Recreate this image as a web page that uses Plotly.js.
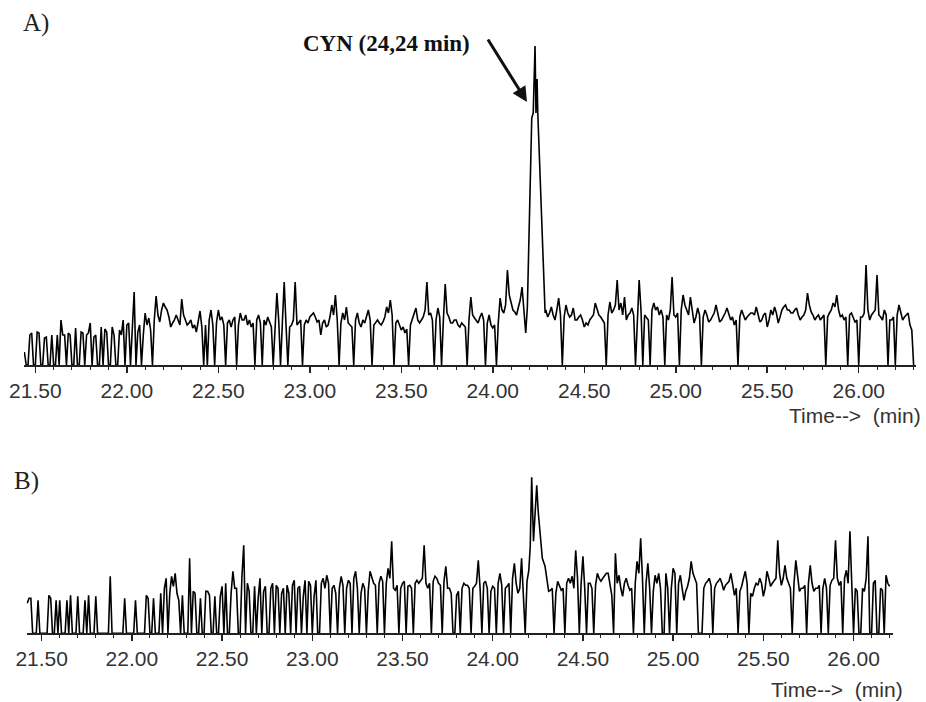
<!DOCTYPE html>
<html>
<head>
<meta charset="utf-8">
<script src="https://cdn.plot.ly/plotly-3.0.1.min.js"></script>
<style>html,body{margin:0;padding:0;background:#fff;}#chart{width:926px;height:702px;}</style>
</head>
<body>
<div id="chart"></div>
<script>
// Sampling grid of the chromatograms (min)
const startA = 21.44, stepA = 0.01;
const startB = 21.42, stepB = 0.01;

// Panel A: abundance (arbitrary units, baseline = 0); null = covered by the peak points
const valuesA = [
13,0,0,30,32,0,0,33,32,0,0,27,28,0,0,30,0,0,30,0,
45,30,30,0,32,30,0,0,37,0,0,33,32,0,30,32,42,0,28,30,
0,0,38,0,36,33,0,0,38,30,0,0,35,30,45,0,40,42,0,35,
73,0,33,40,0,30,52,40,47,35,0,45,69,50,43,55,62,58,55,48,
38,42,45,50,45,40,66,50,45,40,42,45,37,40,33,42,54,38,0,40,
0,45,55,40,0,42,55,45,48,40,0,42,45,38,45,48,0,40,52,45,
45,50,40,45,38,42,0,45,50,42,0,45,40,48,42,38,0,40,72,45,
0,42,83,40,0,38,40,45,83,40,42,45,0,40,45,42,48,50,52,48,
43,45,30,42,45,38,40,48,60,50,70,45,0,42,52,45,58,42,40,38,
0,45,52,42,38,45,42,48,55,45,0,40,43,45,42,40,43,48,58,52,
65,50,0,42,45,40,35,38,32,36,0,40,45,50,57,45,42,45,48,55,
83,50,52,45,0,45,57,48,0,45,81,52,48,42,42,45,45,40,38,42,
40,38,0,45,68,50,47,45,42,48,52,45,0,42,50,40,37,40,0,42,
67,55,52,60,95,70,62,55,53,50,58,65,78,55,32,null,null,null,null,null,
null,null,null,null,null,55,48,52,58,50,45,55,67,50,0,48,60,52,48,50,
57,45,45,48,50,45,38,42,40,45,47,50,62,55,50,48,45,42,0,50,
63,52,55,60,85,55,62,50,68,45,50,52,57,50,0,50,85,55,0,50,
48,45,0,55,62,55,58,50,55,48,0,50,45,55,88,50,48,52,0,55,
70,60,55,50,68,55,42,48,57,50,0,48,55,50,43,45,48,52,60,50,
43,45,48,52,57,50,45,48,40,45,0,48,55,50,45,48,50,52,52,50,
58,50,43,45,50,52,38,45,55,50,58,52,42,48,55,58,60,55,55,52,
52,55,57,50,45,48,50,55,72,60,53,50,45,48,50,45,48,50,0,48,
52,55,62,58,70,55,48,50,45,48,0,50,52,48,43,45,0,48,48,52,
100,55,45,50,52,55,90,50,48,45,55,50,0,45,45,48,0,50,60,52,
45,48,50,52,40,35,0
];
// CYN peak in panel A
const peakTimesA = [24.189, 24.213, 24.221, 24.231, 24.236, 24.242, 24.246, 24.286];
const peakValuesA = [58, 247, 252, 319, 252, 286, 252, 52];

// Panel B
const valuesB = [
30,35,35,0,0,0,33,0,0,0,0,0,38,35,0,0,33,0,33,0,
0,0,33,0,38,0,0,0,37,0,0,0,33,0,38,0,0,0,37,0,
0,0,0,0,0,0,57,0,0,0,0,0,0,0,35,0,0,0,0,0,
33,0,0,0,0,0,38,35,0,0,35,0,0,0,40,0,45,55,0,40,
57,47,60,40,33,0,38,0,0,0,75,0,42,40,0,0,35,0,0,42,
42,38,0,0,37,0,0,37,47,0,50,0,0,40,62,45,45,0,0,57,
88,0,50,42,0,0,47,0,35,55,0,42,47,0,0,45,50,0,48,45,
0,40,45,0,48,40,0,48,53,0,45,47,0,37,53,0,52,48,0,37,
53,0,0,50,55,45,58,50,0,45,48,40,0,45,57,48,0,45,53,50,
0,55,62,45,0,40,50,45,0,42,62,55,50,48,0,50,57,52,0,50,
65,55,92,45,43,48,0,45,50,52,0,47,48,45,0,50,53,50,52,55,
88,50,45,50,0,52,57,55,50,48,0,52,67,45,45,40,0,0,38,42,
0,45,50,48,48,45,0,45,47,50,73,45,0,50,52,45,0,42,47,45,
0,50,60,48,0,45,47,50,0,55,70,50,40,45,75,40,0,52,63,null,
null,null,null,null,null,null,null,null,null,null,43,45,0,40,52,48,43,45,0,50,
55,50,57,45,83,55,0,50,77,45,0,50,50,45,0,48,60,55,52,55,
57,60,60,50,38,0,80,50,58,45,37,50,55,48,43,45,0,50,72,60,
95,55,0,50,70,45,0,42,58,50,60,45,0,0,60,45,0,45,65,60,
0,50,58,45,33,42,47,55,72,60,55,50,0,0,0,45,50,52,55,48,
0,45,50,52,55,50,43,48,50,52,60,50,38,45,0,42,47,55,62,50,
0,40,37,45,50,48,55,50,37,45,62,55,47,50,53,55,93,60,48,55,
68,55,50,45,0,50,73,55,42,45,45,48,0,50,68,50,42,45,45,48,
0,45,55,45,0,48,53,55,93,55,48,52,0,55,63,50,102,50,0,45,
42,0,0,45,42,55,97,0,0,50,53,0,0,45,43,0,58,50,47
];
const peakTimesB = [24.208, 24.216, 24.226, 24.234, 24.244, 24.252, 24.262, 24.275, 24.290, 24.310];
const peakValuesB = [87, 156, 92, 120, 148, 122, 100, 75, 67, 42];

const tickValues = [21.5, 22.0, 22.5, 23.0, 23.5, 24.0, 24.5, 25.0, 25.5, 26.0];
const tickLabels = ['21.50','22.00','22.50','23.00','23.50','24.00','24.50','25.00','25.50','26.00'];

function build(t0, dt, vals, pt, pv) {
  const pts = [];
  vals.forEach((v, i) => { if (v !== null) pts.push([t0 + dt * i, v]); });
  pt.forEach((t, j) => pts.push([t, pv[j]]));
  pts.sort((a, b) => a[0] - b[0]);
  return { x: pts.map(p => p[0]), y: pts.map(p => p[1]) };
}
const A = build(startA, stepA, valuesA, peakTimesA, peakValuesA);
const B = build(startB, stepB, valuesB, peakTimesB, peakValuesB);

const W = 926, H = 702;
const px = v => v / W, py = v => (H - v) / H;

const lineStyle = { color: '#000', width: 1.6 };
const traces = [
  { x: A.x, y: A.y, type: 'scatter', mode: 'lines', line: lineStyle, xaxis: 'x', yaxis: 'y', hoverinfo: 'skip' },
  { x: B.x, y: B.y, type: 'scatter', mode: 'lines', line: lineStyle, xaxis: 'x2', yaxis: 'y2', hoverinfo: 'skip' }
];

const tickFont = { family: 'Liberation Sans, Arial, sans-serif', size: 21, color: '#333' };
function xax(domain, range, anchor) {
  return {
    domain: domain, range: range, anchor: anchor,
    showline: true, linecolor: '#222', linewidth: 1.5,
    ticks: 'outside', ticklen: 6, tickwidth: 1.5, tickcolor: '#222',
    tickmode: 'array', tickvals: tickValues, ticktext: tickLabels,
    tickfont: tickFont,
    minor: { dtick: 0.1, tick0: 21.5, ticks: 'outside', ticklen: 3, tickwidth: 1, tickcolor: '#222', showgrid: false },
    showgrid: false, zeroline: false, fixedrange: true
  };
}
function yax(domain, range) {
  return { domain: domain, range: range, visible: false, showgrid: false, zeroline: false, fixedrange: true };
}

const layout = {
  width: W, height: H,
  margin: { l: 0, r: 0, t: 0, b: 0 },
  paper_bgcolor: '#fff', plot_bgcolor: '#fff',
  showlegend: false,
  xaxis: xax([px(24), px(916)], [21.438, 26.313], 'y'),
  yaxis: yax([py(365), py(30)], [0, 335]),
  xaxis2: xax([px(26.7), px(892.7)], [21.417, 26.217], 'y2'),
  yaxis2: yax([py(633.3), py(470)], [0, 163.3]),
  annotations: [
    { xref: 'paper', yref: 'paper', x: px(21), y: py(23), xanchor: 'left', yanchor: 'middle', text: 'A)', showarrow: false,
      font: { family: 'Liberation Serif, Times New Roman, serif', size: 25, color: '#222' } },
    { xref: 'paper', yref: 'paper', x: px(12), y: py(481), xanchor: 'left', yanchor: 'middle', text: 'B)', showarrow: false,
      font: { family: 'Liberation Serif, Times New Roman, serif', size: 25, color: '#222' } },
    { xref: 'paper', yref: 'paper', x: px(301), y: py(44), xanchor: 'left', yanchor: 'middle', text: '<b>CYN (24,24 min)</b>', showarrow: false,
      font: { family: 'Liberation Serif, Times New Roman, serif', size: 23, color: '#111' } },
    { xref: 'paper', yref: 'paper', x: px(527), y: py(102), text: '', showarrow: true, ax: -40, ay: -64,
      arrowhead: 2, arrowsize: 1, arrowwidth: 3, arrowcolor: '#111', standoff: 0 },
    { xref: 'paper', yref: 'paper', x: px(923), y: py(415), xanchor: 'right', yanchor: 'middle', text: 'Time--&gt;&nbsp; (min)', showarrow: false,
      font: tickFont },
    { xref: 'paper', yref: 'paper', x: px(905), y: py(689), xanchor: 'right', yanchor: 'middle', text: 'Time--&gt;&nbsp; (min)', showarrow: false,
      font: tickFont }
  ]
};

Plotly.newPlot('chart', traces, layout, { staticPlot: true, displayModeBar: false });
</script>
</body>
</html>
